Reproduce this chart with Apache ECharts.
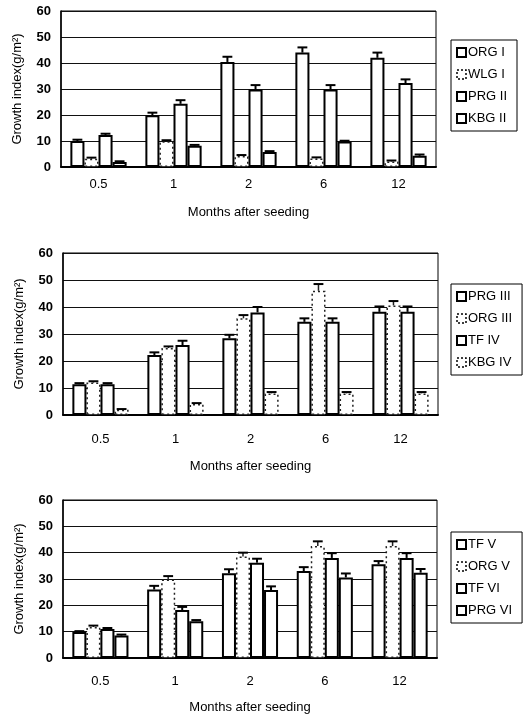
<!DOCTYPE html>
<html>
<head>
<meta charset="utf-8">
<script src="https://cdn.jsdelivr.net/npm/echarts@6/dist/echarts.min.js"></script>
<style>
  html, body { margin: 0; padding: 0; background: #fff; }
  #chart { width: 525px; height: 716px; }
</style>
</head>
<body>
<div id="chart"></div>
<script>
// ---------- data ----------
const categories = ['0.5', '1', '2', '6', '12'];
const yTicks = [0, 10, 20, 30, 40, 50, 60];

// Panel 1
const names1 = ['ORG I', 'WLG I', 'PRG II', 'KBG II'];
const orgI = [10.0, 19.9, 40.4, 44.0, 42.0];
const orgIErr = [0.5, 1.0, 2.0, 2.0, 2.0];
const wlgI = [3.2, 9.9, 4.2, 3.3, 2.1];
const wlgIErr = [0.4, 0.4, 0.4, 0.4, 0.4];
const prgII = [12.3, 24.3, 29.8, 29.8, 32.3];
const prgIIErr = [0.5, 1.4, 1.7, 1.7, 1.4];
const kbgII = [1.9, 8.2, 5.8, 9.8, 4.3];
const kbgIIErr = [0.3, 0.3, 0.3, 0.3, 0.5];

// Panel 2
const names2 = ['PRG III', 'ORG III', 'TF IV', 'KBG IV'];
const prgIII = [11.4, 22.2, 28.4, 34.5, 38.2];
const prgIIIErr = [0.4, 1.0, 1.3, 1.3, 2.0];
const orgIII = [12.0, 24.8, 35.8, 46.0, 40.6];
const orgIIIErr = [0.5, 0.6, 1.2, 2.5, 1.6];
const tfIV = [11.4, 25.9, 38.0, 34.5, 38.2];
const tfIVErr = [0.4, 1.6, 2.0, 1.3, 2.0];
const kbgIV = [1.9, 4.1, 8.0, 8.0, 8.0];
const kbgIVErr = [0.3, 0.3, 0.5, 0.5, 0.5];

// Panel 3
const names3 = ['TF V', 'ORG V', 'TF VI', 'PRG VI'];
const tfV = [9.9, 26.0, 32.2, 33.0, 35.6];
const tfVErr = [0.3, 1.4, 1.5, 1.5, 1.2];
const orgV = [11.8, 29.8, 38.5, 42.5, 42.5];
const orgVErr = [0.5, 1.3, 1.5, 1.8, 1.8];
const tfVI = [11.0, 18.2, 36.2, 38.0, 38.0];
const tfVIErr = [0.4, 1.2, 1.5, 1.8, 1.8];
const prgVI = [8.5, 14.0, 25.8, 30.6, 32.4];
const prgVIErr = [0.4, 0.4, 1.4, 1.5, 1.4];

const yAxisTitle = 'Growth index(g/m\u00B2)';
const xAxisTitle = 'Months after seeding';

// ---------- styles ----------
const FONT = 'Liberation Sans, Arial, sans-serif';
const CAT_GAP = 0.25;
const solidStyle = { color: '#fff', borderColor: '#000', borderWidth: 2 };
const dottedStyle = { color: '#fff', borderColor: '#222', borderWidth: 1.5, borderType: [2, 3] };

const panels = [
  { names: names1, vals: [orgI, wlgI, prgII, kbgII], errs: [orgIErr, wlgIErr, prgIIErr, kbgIIErr],
    dotted: [false, true, false, false],
    grid: { left: 61, right: 89, top: 11, height: 156 }, labelMargin: 11, nameGap: 39,
    legend: { left: 451, top: 40 } },
  { names: names2, vals: [prgIII, orgIII, tfIV, kbgIV], errs: [prgIIIErr, orgIIIErr, tfIVErr, kbgIVErr],
    dotted: [false, true, false, true],
    grid: { left: 63, right: 87, top: 253, height: 162 }, labelMargin: 18, nameGap: 45,
    legend: { left: 451, top: 284 } },
  { names: names3, vals: [tfV, orgV, tfVI, prgVI], errs: [tfVErr, orgVErr, tfVIErr, prgVIErr],
    dotted: [false, true, false, false],
    grid: { left: 63, right: 88, top: 500, height: 158 }, labelMargin: 17, nameGap: 43,
    legend: { left: 451, top: 532 } }
];

function errRenderer(slot, dotted) {
  return function (params, api) {
    const cat = api.value(0), v = api.value(1), e = api.value(2);
    const base = api.coord([cat, v]);
    const top = api.coord([cat, v + e]);
    const band = api.size([1, 0])[0];
    const bw = band * (1 - CAT_GAP) / 4;
    const x = base[0] + (slot - 1.5) * bw;
    const cap = bw * 0.35;
    const st = { stroke: dotted ? '#222' : '#000', lineWidth: dotted ? 1.5 : 2 };
    return {
      type: 'group',
      children: [
        { type: 'line', shape: { x1: x, y1: base[1], x2: x, y2: top[1] }, style: st },
        { type: 'line', shape: { x1: x - cap, y1: top[1], x2: x + cap, y2: top[1] }, style: { stroke: '#000', lineWidth: 2 } }
      ]
    };
  };
}

const grids = [], xAxes = [], yAxes = [], series = [], legends = [];
panels.forEach((p, pi) => {
  grids.push(Object.assign({ show: true, borderColor: '#000', borderWidth: 1, backgroundColor: 'transparent' }, p.grid));
  xAxes.push({
    type: 'category', gridIndex: pi, data: categories,
    axisLine: { lineStyle: { color: '#000', width: 2 } },
    axisTick: { show: false },
    axisLabel: { color: '#000', fontSize: 13, fontFamily: FONT, margin: p.labelMargin },
    name: xAxisTitle, nameLocation: 'middle', nameGap: p.nameGap,
    nameTextStyle: { color: '#000', fontSize: 13, fontFamily: FONT }
  });
  yAxes.push({
    type: 'value', gridIndex: pi, min: yTicks[0], max: yTicks[yTicks.length - 1], interval: 10,
    axisLine: { show: true, lineStyle: { color: '#000', width: 1.5 } },
    axisTick: { show: false },
    splitLine: { show: true, lineStyle: { color: '#111', width: 1 } },
    axisLabel: { color: '#000', fontSize: 13, fontFamily: FONT, margin: 10, fontWeight: 'bold' },
    name: yAxisTitle, nameLocation: 'middle', nameGap: 37, nameRotate: 90,
    nameTextStyle: { color: '#000', fontSize: 13, fontFamily: FONT }
  });
  p.names.forEach((n, si) => {
    series.push({
      type: 'bar', name: n, xAxisIndex: pi, yAxisIndex: pi,
      data: p.vals[si], barGap: 0, barCategoryGap: (CAT_GAP * 100) + '%',
      itemStyle: p.dotted[si] ? dottedStyle : solidStyle,
      emphasis: { disabled: true }, animation: false
    });
  });
  p.names.forEach((n, si) => {
    series.push({
      type: 'custom', name: n + ' err', xAxisIndex: pi, yAxisIndex: pi,
      renderItem: errRenderer(si, p.dotted[si]),
      encode: { x: 0, y: 1 },
      data: p.vals[si].map((v, i) => [i, v, p.errs[si][i]]),
      z: 5, animation: false, silent: true
    });
  });
  legends.push({
    data: p.names.map((n, si) => ({
      name: n,
      itemStyle: p.dotted[si]
        ? { color: '#fff', borderColor: '#000', borderWidth: 1.5, borderType: [2, 2] }
        : { color: '#fff', borderColor: '#000', borderWidth: 2 }
    })),
    orient: 'vertical', left: p.legend.left, top: p.legend.top,
    itemWidth: 9, itemHeight: 9, itemGap: 9, padding: [6, 10, 6, 5],
    borderColor: '#000', borderWidth: 1, icon: 'rect',
    textStyle: { color: '#000', fontSize: 13, fontFamily: FONT, padding: [0, 0, 0, -3] },
    selectedMode: false
  });
});

const chart = echarts.init(document.getElementById('chart'), null, { renderer: 'canvas' });
chart.setOption({
  animation: false,
  backgroundColor: '#fff',
  grid: grids, xAxis: xAxes, yAxis: yAxes, series: series, legend: legends
});
</script>
</body>
</html>
